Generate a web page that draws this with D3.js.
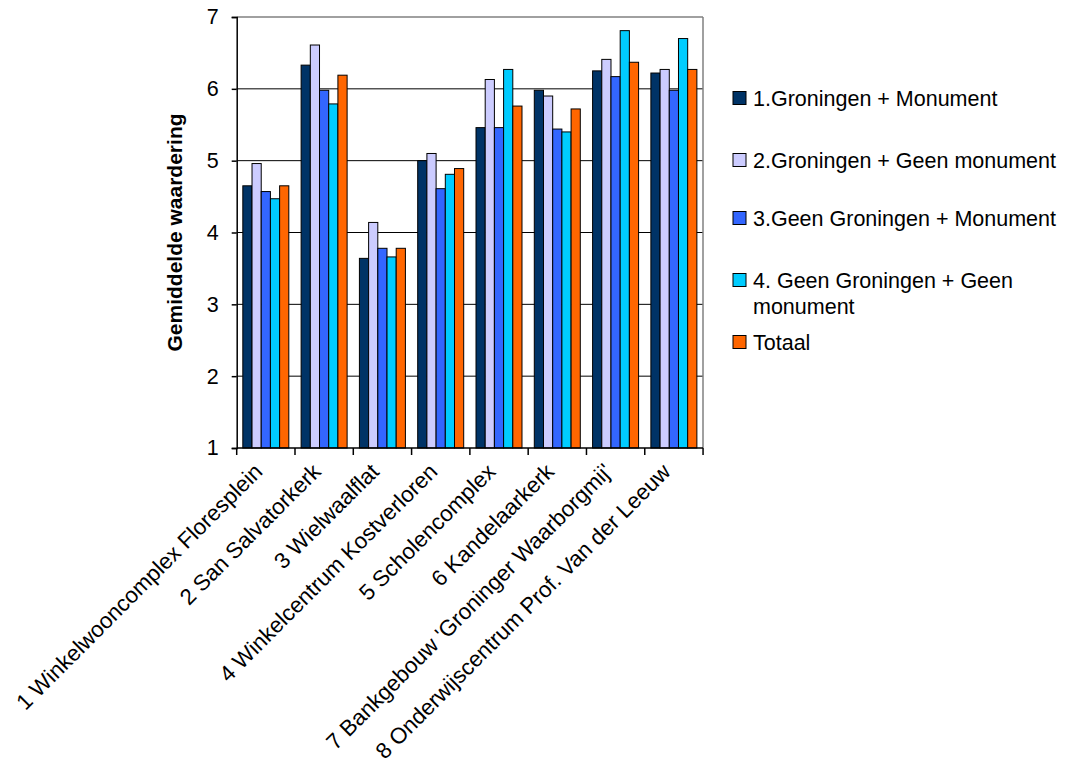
<!DOCTYPE html>
<html>
<head>
<meta charset="utf-8">
<script src="https://cdn.jsdelivr.net/npm/d3@7/dist/d3.min.js"></script>
<style>
  html, body { margin: 0; padding: 0; background: #fff; }
  svg { display: block; font-family: "Liberation Sans", Arial, sans-serif; }
</style>
</head>
<body>
<svg id="chart" width="1066" height="765"></svg>
<script>
const categories = [
  "1 Winkelwooncomplex Floresplein",
  "2 San Salvatorkerk",
  "3 Wielwaalflat",
  "4 Winkelcentrum Kostverloren",
  "5 Scholencomplex",
  "6 Kandelaarkerk",
  "7 Bankgebouw 'Groninger Waarborgmij'",
  "8 Onderwijscentrum Prof. Van der Leeuw"
];
const seriesNames = [
  ["1.Groningen + Monument"],
  ["2.Groningen + Geen monument"],
  ["3.Geen Groningen + Monument"],
  ["4. Geen Groningen + Geen", "monument"],
  ["Totaal"]
];
const seriesColors = ["#003366", "#CCCCFF", "#3366FF", "#00CCFF", "#FF6600"];
const s1 = [4.65, 6.33, 3.64, 5.00, 5.46, 5.98, 6.25, 6.22];
const s2 = [4.96, 6.61, 4.14, 5.10, 6.13, 5.90, 6.41, 6.27];
const s3 = [4.57, 5.98, 3.78, 4.61, 5.46, 5.44, 6.17, 5.98];
const s4 = [4.47, 5.79, 3.66, 4.81, 6.27, 5.40, 6.81, 6.70];
const s5 = [4.65, 6.19, 3.78, 4.89, 5.76, 5.72, 6.37, 6.27];
const seriesValues = [s1, s2, s3, s4, s5];
const yTicks = [1, 2, 3, 4, 5, 6, 7];
const yTitle = "Gemiddelde waardering";

const svg = d3.select("#chart");
const pLeft = 236.7, pRight = 703, pTop = 17, pBottom = 448;
const fs = 21.5;
const fsX = 22.3;

const x0 = d3.scaleBand().domain(categories).range([pLeft, pRight])
  .paddingInner(0.211).paddingOuter(0.105);
const x1 = d3.scaleBand().domain(d3.range(seriesValues.length)).range([0, x0.bandwidth()]);
const y = d3.scaleLinear().domain([1, 7]).range([pBottom, pTop]);

// gridlines
svg.append("g").selectAll("line").data(yTicks.filter(d => d > 1 && d < 7)).join("line")
  .attr("x1", pLeft).attr("x2", pRight)
  .attr("y1", d => y(d)).attr("y2", d => y(d))
  .attr("stroke", "#000").attr("stroke-width", 1);

// plot border top / right (gray)
svg.append("line").attr("x1", pLeft).attr("x2", pRight).attr("y1", y(7)).attr("y2", y(7))
  .attr("stroke", "#808080").attr("stroke-width", 1.5);
svg.append("line").attr("x1", pRight).attr("x2", pRight).attr("y1", y(7)).attr("y2", y(1))
  .attr("stroke", "#808080").attr("stroke-width", 1.5);

// bars
const groups = svg.append("g").selectAll("g").data(categories).join("g")
  .attr("transform", d => `translate(${x0(d)},0)`);
groups.selectAll("rect").data((d, i) => seriesValues.map((s, k) => ({k, v: s[i]}))).join("rect")
  .attr("x", d => x1(d.k))
  .attr("width", x1.bandwidth())
  .attr("y", d => y(d.v))
  .attr("height", d => y(1) - y(d.v))
  .attr("fill", d => seriesColors[d.k])
  .attr("stroke", "#000").attr("stroke-width", 1);

// y axis
const yAxis = d3.axisLeft(y).tickValues(yTicks).tickFormat(d3.format("d")).tickSize(5).tickPadding(13);
const gy = svg.append("g").attr("transform", `translate(${pLeft},0)`).call(yAxis);
gy.select(".domain").attr("stroke", "#000").attr("stroke-width", 1.5);
gy.selectAll(".tick line").attr("stroke", "#000").attr("stroke-width", 1.5);
gy.selectAll(".tick text").attr("font-size", fs).attr("fill", "#000")
  .attr("font-family", "Liberation Sans, Arial, sans-serif");

// x axis: line + ticks at category boundaries
svg.append("line").attr("x1", pLeft).attr("x2", pRight).attr("y1", pBottom).attr("y2", pBottom)
  .attr("stroke", "#000").attr("stroke-width", 1.5);
const step = x0.step();
const boundaries = d3.range(categories.length + 1).map(i => pLeft + i * step);
svg.append("g").selectAll("line").data(boundaries).join("line")
  .attr("x1", d => d).attr("x2", d => d).attr("y1", pBottom).attr("y2", pBottom + 7)
  .attr("stroke", "#000").attr("stroke-width", 1.5);

// x labels
svg.append("g").selectAll("text").data(categories).join("text")
  .attr("transform", d => `translate(${x0(d) + x0.bandwidth() / 2 - 2},${pBottom + 25}) rotate(-45)`)
  .attr("text-anchor", "end")
  .attr("font-size", fsX).attr("fill", "#000")
  .text(d => d);

// y title
svg.append("text")
  .attr("transform", `translate(182,${(pTop + pBottom) / 2}) rotate(-90)`)
  .attr("text-anchor", "middle")
  .attr("font-size", 21).attr("font-weight", "bold").attr("fill", "#000")
  .text(yTitle);

// legend
const legendRows = [98, 160, 218, 280, 342];
const lg = svg.append("g");
seriesNames.forEach((lines, k) => {
  const cy = legendRows[k];
  lg.append("rect").attr("x", 733).attr("y", cy - 6.5).attr("width", 13).attr("height", 13)
    .attr("fill", seriesColors[k]).attr("stroke", "#000").attr("stroke-width", 1);
  const t = lg.append("text").attr("x", 753).attr("y", cy)
    .attr("font-size", fs).attr("fill", "#000");
  lines.forEach((ln, j) => {
    t.append("tspan").attr("x", 753).attr("dy", j === 0 ? "0.35em" : "1.25em").text(ln);
  });
});
</script>
</body>
</html>
